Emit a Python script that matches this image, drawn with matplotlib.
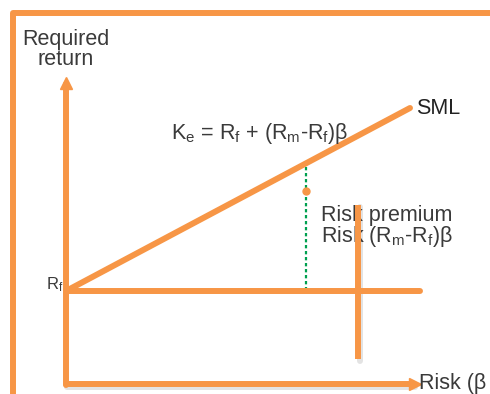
import matplotlib
matplotlib.use("Agg")
import matplotlib.pyplot as plt

plt.rcParams['font.family'] = ['Liberation Sans', 'DejaVu Sans']
plt.rcParams['mathtext.fontset'] = 'custom'
plt.rcParams['mathtext.rm'] = 'Liberation Sans'
plt.rcParams['mathtext.it'] = 'Liberation Sans'
plt.rcParams['mathtext.default'] = 'regular'

# Diagram geometry (pixel-space coordinates of the schematic)
frame_x = [13, 13, 490]
frame_y = [394, 13, 13]
y_axis_x = [66, 66]
y_axis_y = [385, 84]
x_axis_x = [66, 414]
x_axis_y = [384, 384]
rf_line_x = [66, 420]
rf_line_y = [291, 291]
sml_x = [66, 410]
sml_y = [291, 108]
premium_x = [306, 306]
premium_y = [167, 289]
dot_x = [306]
dot_y = [191]
bar_x = [358, 358]
bar_y = [205, 359]

orange = '#F79646'
green = '#00A050'
txt = '#3a3a3a'
lw = 4.3

fig = plt.figure(figsize=(4.9, 3.94), dpi=100)
ax = fig.add_axes([0, 0, 1, 1])
ax.set_xlim(0, 490)
ax.set_ylim(394, 0)
ax.axis('off')

# shadows
sh = dict(color='#b0b0b0', lw=lw, alpha=0.35, solid_capstyle='round', zorder=1)
ax.plot([v + 2 for v in bar_x], [v + 2 for v in bar_y], **sh)
ax.plot([v + 1 for v in x_axis_x], [v + 3 for v in x_axis_y], **sh)

common = dict(color=orange, lw=lw, solid_capstyle='round', solid_joinstyle='round', zorder=3)
ax.plot(frame_x, frame_y, **common)
ax.plot(y_axis_x, y_axis_y, **common)
ax.plot(x_axis_x, x_axis_y, **common)
ax.plot(rf_line_x, rf_line_y, **common)
ax.plot(sml_x, sml_y, **common)

# arrow heads
ax.plot([y_axis_x[1]], [y_axis_y[1] - 1], marker='^', ms=9, color=orange, mec=orange, zorder=3)
ax.plot([x_axis_x[1] + 1], [x_axis_y[1]], marker='>', ms=9, color=orange, mec=orange, zorder=3)

ax.plot(premium_x, premium_y, color=green, lw=1.6, ls=(0, (1.5, 1.2)), zorder=2)
ax.plot(dot_x, dot_y, 'o', ms=5, color=orange, zorder=4)
ax.plot(bar_x, bar_y, color=orange, lw=lw, solid_capstyle='butt', zorder=5)

fs = 15.5
ax.text(66, 39, 'Required', ha='center', va='center', fontsize=fs, color=txt)
ax.text(66, 59, 'return', ha='center', va='center', fontsize=fs, color=txt)
ax.text(416, 108, 'SML', ha='left', va='center', fontsize=fs, color='#222222')
ax.text(171, 133, r'K$_e$ = R$_f$ + (R$_m$-R$_f$)β', ha='left', va='center', fontsize=fs, color=txt)
ax.text(321, 215, 'Risk premium', ha='left', va='center', fontsize=fs, color=txt, zorder=4)
ax.text(321, 236, r'Risk (R$_m$-R$_f$)β', ha='left', va='center', fontsize=fs, color=txt, zorder=4)
ax.text(46, 285, r'R$_f$', ha='left', va='center', fontsize=12, color=txt)
ax.text(419, 384, 'Risk (β', ha='left', va='center', fontsize=fs, color=txt)

fig.savefig('out.png', dpi=100)
